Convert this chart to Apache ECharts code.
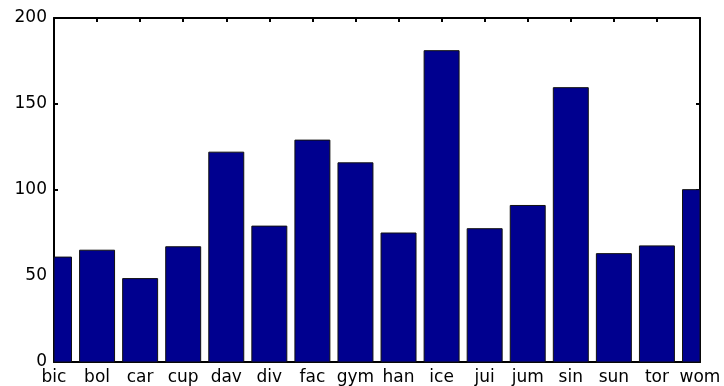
<!DOCTYPE html>
<html><head><meta charset="utf-8">
<script src="https://cdn.jsdelivr.net/npm/echarts@6/dist/echarts.min.js"></script>
<style>html,body{margin:0;padding:0;background:#fff}#c{width:724px;height:386px}</style>
</head><body><div id="c"></div>
<script>
var categories = ['bic','bol','car','cup','dav','div','fac','gym','han','ice','jui','jum','sin','sun','tor','wom'];
var values = [61, 65, 48.5, 67, 122, 79, 129, 115.8, 75, 181, 77.5, 91, 159.5, 63, 67.5, 100.2];
var yTicks = [0, 50, 100, 150, 200];

var data = values.map(function(v, i){ return [i + 1, v]; });
var font = 'DejaVu Sans';
var axisLine = {show: true, onZero: false, lineStyle: {color: '#000', width: 2}};
var axisTick = {show: true, inside: true, length: 4, lineStyle: {color: '#000', width: 2}};
var chart = echarts.init(document.getElementById('c'));
chart.setOption({
  animation: false,
  grid: {left: 54, right: 24, top: 18, bottom: 22, containLabel: false},
  xAxis: [{
    type: 'value', min: 1, max: categories.length, interval: 1, position: 'bottom',
    axisLine: axisLine, axisTick: axisTick, splitLine: {show: false},
    axisLabel: {show: true, margin: 7, color: '#000', fontFamily: font, fontSize: 17,
      showMinLabel: true, showMaxLabel: true,
      formatter: function(v){ return categories[Math.round(v) - 1] || ''; }}
  }, {
    type: 'value', min: 1, max: categories.length, interval: 1, position: 'top',
    axisLine: axisLine, axisTick: axisTick, splitLine: {show: false}, axisLabel: {show: false}
  }],
  yAxis: [{
    type: 'value', min: yTicks[0], max: yTicks[yTicks.length - 1], interval: 50, position: 'left',
    axisLine: axisLine, axisTick: axisTick, splitLine: {show: false},
    axisLabel: {show: true, margin: 7, color: '#000', fontFamily: font, fontSize: 17,
      showMinLabel: true, showMaxLabel: true}
  }, {
    type: 'value', min: yTicks[0], max: yTicks[yTicks.length - 1], interval: 50, position: 'right',
    axisLine: axisLine, axisTick: axisTick, splitLine: {show: false}, axisLabel: {show: false}
  }],
  series: [{
    type: 'custom', xAxisIndex: 0, yAxisIndex: 0, data: data, z: 1,
    renderItem: function(params, api){
      var x = api.value(0), y = api.value(1), hw = 0.406;
      var p1 = api.coord([x - hw, y]);
      var p2 = api.coord([x + hw, 0]);
      var rect = echarts.graphic.clipRectByRect(
        {x: p1[0], y: p1[1], width: p2[0] - p1[0], height: p2[1] - p1[1]},
        {x: params.coordSys.x, y: params.coordSys.y, width: params.coordSys.width, height: params.coordSys.height});
      if (!rect) return null;
      return {type: 'rect', shape: rect, style: {fill: '#00008f', stroke: '#111', lineWidth: 1}};
    }
  }]
});
</script></body></html>
